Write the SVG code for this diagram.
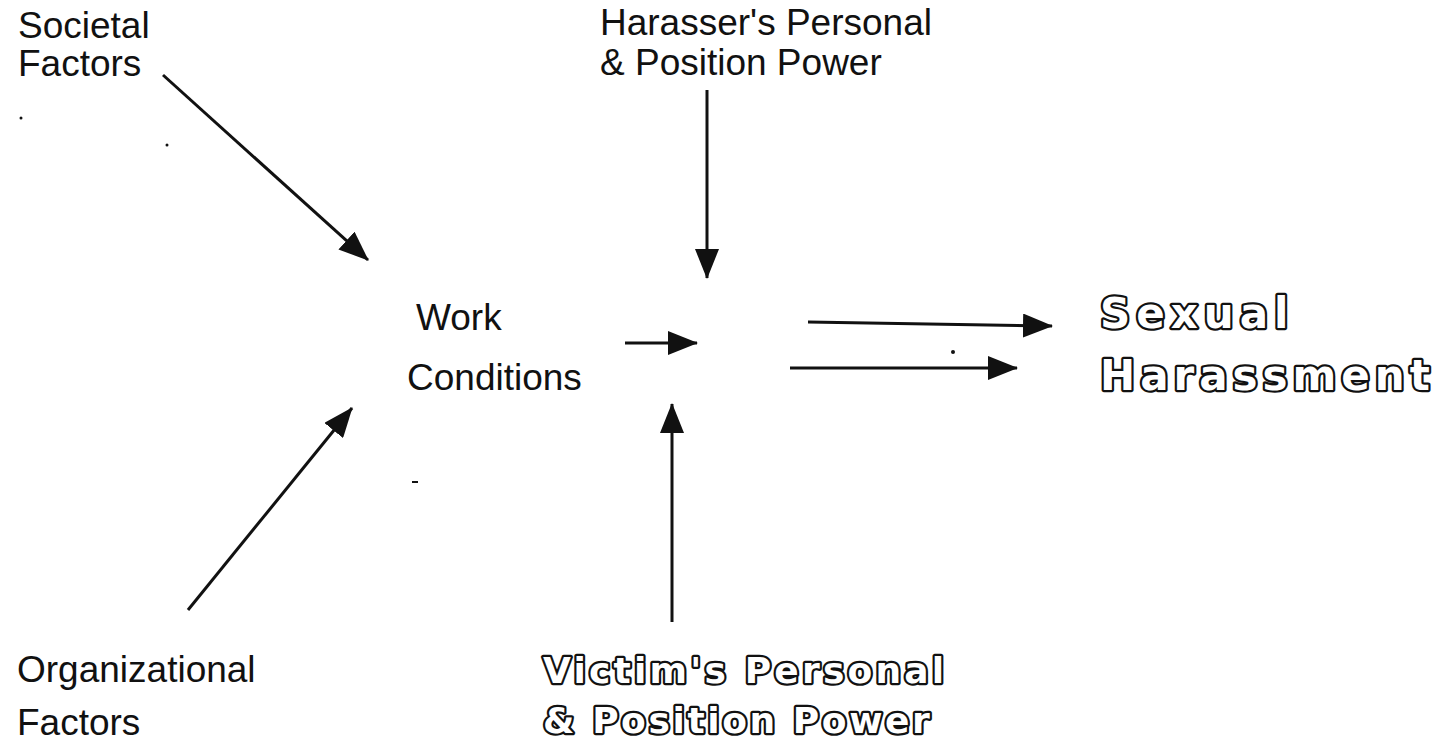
<svg xmlns="http://www.w3.org/2000/svg" width="1440" height="743" viewBox="0 0 1440 743">
<style>
.t{font-family:"Liberation Sans",Arial,sans-serif;font-size:37px;fill:#111}
.o{font-family:"DejaVu Sans","Liberation Sans",sans-serif;font-weight:bold;fill:#fff;stroke:#111;stroke-width:4.5px;stroke-linejoin:round;paint-order:stroke}
.c{stroke:#111;stroke-width:3;fill:none;marker-end:url(#ah)}
</style>
<defs>
<marker id="ah" markerUnits="userSpaceOnUse" markerWidth="31" markerHeight="24" refX="29" refY="12" orient="auto" viewBox="0 0 31 24">
<path d="M0,0 L30,12 L0,24 z" fill="#111"/>
</marker>
</defs>
<rect width="1440" height="743" fill="#fff"/>
<g id="societal"><text class="t" x="18" y="38">Societal</text><text class="t" x="18" y="76">Factors</text></g>
<g id="harasser"><text class="t" x="600" y="35">Harasser's Personal</text><text class="t" x="600" y="75">&amp; Position Power</text></g>
<g id="work"><text class="t" x="416" y="330">Work</text><text class="t" x="407" y="390">Conditions</text></g>
<g id="organizational"><text class="t" x="17" y="682">Organizational</text><text class="t" x="17" y="735">Factors</text></g>
<g id="sexual"><text class="o" x="1100" y="328" font-size="42" letter-spacing="6">Sexual</text><text class="o" x="1100" y="390" font-size="42" letter-spacing="5">Harassment</text></g>
<g id="victim"><text class="o" x="543" y="683" font-size="36" letter-spacing="3.2">Victim's Personal</text><text class="o" x="543" y="733" font-size="36" letter-spacing="2.6">&amp; Position Power</text></g>
<g id="connectors">
<line class="c" x1="163" y1="75" x2="368" y2="260"/>
<line class="c" x1="188" y1="610" x2="352" y2="408"/>
<line class="c" x1="707" y1="90" x2="707" y2="278"/>
<line class="c" x1="672" y1="622" x2="672" y2="404"/>
<line class="c" x1="625" y1="343" x2="697" y2="343"/>
<line class="c" x1="808" y1="322" x2="1052" y2="326"/>
<line class="c" x1="790" y1="368" x2="1017" y2="368"/>
</g>
<g id="specks" fill="#111">
<circle cx="21" cy="118" r="1.5"/>
<circle cx="167" cy="145" r="1.5"/>
<circle cx="953" cy="352" r="2"/>
<rect x="412" y="481" width="6" height="2"/>
</g>
</svg>
